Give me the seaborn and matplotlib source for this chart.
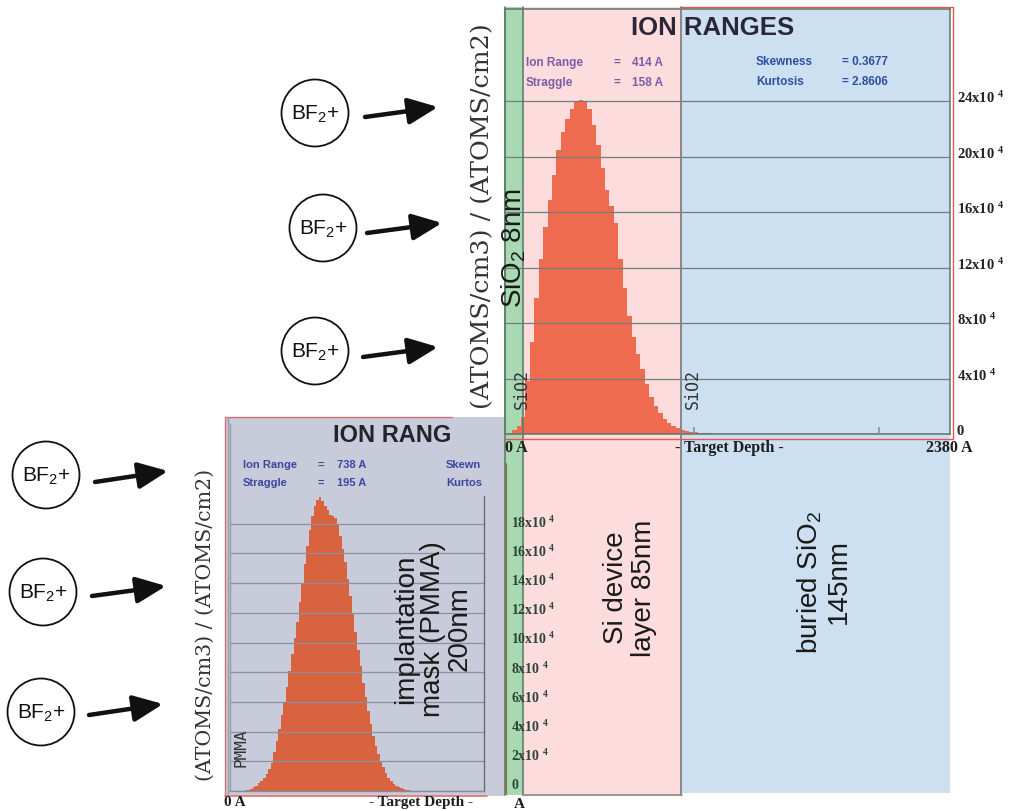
import numpy as np
import pandas as pd
import matplotlib
matplotlib.use("Agg")
import matplotlib.pyplot as plt
import matplotlib.patches as mpatches
import matplotlib.transforms as mtrans
import seaborn as sns

# ---------------- data ----------------
# top SRIM profile (Si device layer, SOI), 23.8 A bins starting at 0 A, values in 1e4
top_bin_width = 23.8
top_values = [0.1, 0.3, 0.6, 1.2, 3.8, 6.6, 9.8, 12.6, 14.9, 16.9,
              18.7, 20.5, 21.8, 22.7, 23.4, 23.9, 24.1, 24.0, 23.4, 22.3,
              20.8, 19.2, 17.6, 16.4, 15.2, 12.6, 10.5, 8.5, 7.0, 5.8,
              4.7, 3.6, 2.7, 2.0, 1.5, 1.1, 0.8, 0.6, 0.45, 0.32,
              0.24, 0.17, 0.12, 0.09, 0.06, 0.04]
top_yticks = [0, 4, 8, 12, 16, 20, 24]
top_depth_max = 2380
layer_edges = [0, 80, 930, 2380]           # A: SiO2 8nm / Si 85nm / buried SiO2 145nm
layer_colors = ["#a9d9b3", "#fddcdd", "#cde0f2"]
top_stats_left = [("Ion Range", "414 A"), ("Straggle", "158 A")]
top_stats_right = [("Skewness", "= 0.3677"), ("Kurtosis", "= 2.8606")]

# bottom SRIM profile (PMMA mask), 20 A bins starting at 100 A, values in 1e4
bot_bin_width = 20
bot_start = 100
bot_values = [0.02, 0.05, 0.1, 0.15, 0.25, 0.35, 0.55, 0.7, 0.9, 1.15,
              1.45, 1.9, 2.6, 3.4, 4.2, 5.1, 6.0, 7.0, 8.1, 9.2,
              10.3, 11.4, 12.7, 14.0, 15.3, 16.5, 17.6, 18.5, 19.2, 19.6,
              19.8, 19.5, 19.2, 18.9, 18.6, 18.5, 18.4, 18.0, 17.2, 16.3,
              15.4, 14.3, 13.1, 11.9, 10.7, 9.5, 8.4, 7.3, 6.3, 5.4,
              4.5, 3.7, 3.0, 2.5, 2.0, 1.6, 1.2, 0.9, 0.7, 0.5,
              0.35, 0.25, 0.18, 0.12, 0.08, 0.05, 0.03]
bot_yticks = [0, 2, 4, 6, 8, 10, 12, 14, 16, 18]
bot_depth_max = 2000
bot_stats = [("Ion Range", "738 A"), ("Straggle", "195 A")]

ylabel_text = "(ATOMS/cm3) / (ATOMS/cm2)"

# ---------------- figure ----------------
sns.set_theme(style="white")
plt.rcParams["font.family"] = ["Liberation Sans", "DejaVu Sans"]
plt.rcParams["mathtext.default"] = "regular"
SERIF = ["Liberation Serif", "DejaVu Serif"]

W, H = 1011, 812
fig = plt.figure(figsize=(W / 100, H / 100), dpi=100)
fig.patch.set_facecolor("white")
lift = mtrans.ScaledTranslation(0, 5 / 100, fig.dpi_scale_trans)   # labels sit ~5px above lines


def frac(x0, y0, x1, y1):
    return [x0 / W, 1 - y1 / H, (x1 - x0) / W, (y1 - y0) / H]


bg = fig.add_axes([0, 0, 1, 1], zorder=0)
bg.set_xlim(0, W)
bg.set_ylim(H, 0)
bg.axis("off")
# grey panel of the PMMA SRIM plot
bg.add_patch(mpatches.Rectangle((225, 418), 280, 379, color="#c8cbd9", lw=0))

# ---------- top axes ----------
ax1 = fig.add_axes(frac(505, 10, 950, 435), zorder=1)
ax1.patch.set_alpha(0)
px_per_unit1 = 55.5 / 4.0                 # pixels per 1e4
ymax1 = (435 - 10) / px_per_unit1 * 1e4
xmin1 = -15
below = -(796 - 435) / 425.0
above = 1 + 2 / 425.0
for i, col in enumerate(layer_colors):
    x0 = layer_edges[i] if i > 0 else xmin1
    x1 = layer_edges[i + 1]
    ymn = below if i < 2 else -(794 - 435) / 425.0
    ax1.axvspan(x0, x1, ymin=ymn, ymax=above, color=col, lw=0, zorder=0.3, clip_on=False)
ax1.axvline(xmin1, ymin=below, ymax=above, color="#5d8068", lw=1.2, clip_on=False, zorder=3)
ax1.axvline(layer_edges[1], ymin=below, ymax=above, color="#5d8068", lw=1.2, clip_on=False, zorder=3)
ax1.axvline(layer_edges[2], ymin=below, ymax=above, color="#808080", lw=1.3, clip_on=False, zorder=3)

edges_top = [i * top_bin_width for i in range(len(top_values) + 1)]
df_top = pd.DataFrame({"depth": [e + top_bin_width / 2 for e in edges_top[:-1]],
                       "conc": [v * 1e4 for v in top_values]})
sns.histplot(data=df_top, x="depth", weights="conc", bins=edges_top,
             element="step", fill=True, color="#ef6b4f", alpha=1, linewidth=0,
             ax=ax1)
ax1.set_xlim(xmin1, top_depth_max)
ax1.set_ylim(0, ymax1)
ax1.set_xlabel("")
ax1.set_ylabel("")
ax1.set_axisbelow(False)
ax1.yaxis.tick_right()
ax1.set_yticks([v * 1e4 for v in top_yticks])
ax1.set_yticklabels(["0"] + [f"{v}x10$^{{\\ 4}}$" for v in top_yticks[1:]])
ax1.grid(axis="y", color="#6f807c", lw=0.9)
ax1.grid(axis="x", visible=False)
ax1.set_xticks([1000, 2000])
ax1.set_xticklabels([])
ax1.tick_params(axis="x", direction="in", length=5, color="#8a9a96", bottom=True)
ax1.tick_params(axis="y", length=0, pad=5, labelsize=10.5, labelcolor="#222222")
for lbl in ax1.get_yticklabels():
    lbl.set_fontfamily(SERIF)
    lbl.set_fontweight("bold")
    lbl.set_transform(lbl.get_transform() + lift)
for s in ax1.spines.values():
    s.set_color("#5f7368")
    s.set_linewidth(1.1)

# ---------- bottom axes ----------
ax2 = fig.add_axes(frac(230, 425, 484, 792), zorder=3)
ax2.patch.set_alpha(0)
px_per_unit2 = 29.7 / 2.0
ymax2 = (792 - 425) / px_per_unit2 * 1e4
edges_bot = [bot_start + i * bot_bin_width for i in range(len(bot_values) + 1)]
df_bot = pd.DataFrame({"depth": [e + bot_bin_width / 2 for e in edges_bot[:-1]],
                       "conc": [v * 1e4 for v in bot_values]})
sns.histplot(data=df_bot, x="depth", weights="conc", bins=edges_bot,
             element="step", fill=True, color="#d9633f", alpha=1, linewidth=0,
             ax=ax2)
ax2.set_xlim(0, bot_depth_max)
ax2.set_ylim(0, ymax2)
ax2.set_xlabel("")
ax2.set_ylabel("")
ax2.set_axisbelow(False)
ax2.yaxis.tick_right()
ax2.set_yticks([v * 1e4 for v in bot_yticks])
ax2.set_yticklabels(["0"] + [f"{v}x10$^{{\\ 4}}$" for v in bot_yticks[1:]])
ax2.grid(axis="y", color="#8a90a2", lw=0.9)
ax2.grid(axis="x", visible=False)
ax2.set_xticks([])
ax2.tick_params(axis="y", length=0, pad=19.5, labelsize=10, labelcolor="#2b4434")
for k, lbl in enumerate(ax2.get_yticklabels()):
    lbl.set_fontfamily(SERIF)
    lbl.set_fontweight("bold")
    up = mtrans.ScaledTranslation(0, (8 - 0.5 * k) / 100, fig.dpi_scale_trans)
    lbl.set_transform(lbl.get_transform() + up)
ax2.spines["top"].set_visible(False)
ax2.spines["left"].set_color("#9a9aaa")
ax2.spines["bottom"].set_color("#8a8a98")
ax2.spines["right"].set_color("#6a6a70")
ax2.spines["right"].set_bounds(0, (792 - 497) / px_per_unit2 * 1e4)
for s in ax2.spines.values():
    s.set_linewidth(1.0)

# ---------- overlay: annotations ----------
ov = fig.add_axes([0, 0, 1, 1], zorder=10)
ov.set_xlim(0, W)
ov.set_ylim(H, 0)
ov.axis("off")
ov.patch.set_alpha(0)

# red frames
red = "#e65454"
ov.plot([680, 953, 953, 505], [8, 8, 440, 440], color=red, lw=1)
ov.plot([452, 225, 225], [418, 418, 797], color="#d07070", lw=1)
ov.plot([225, 487], [797, 797], color="#e07070", lw=1.2)
ov.plot([228, 228], [419, 796], color="#9a9aaa", lw=1)
ov.plot([506, 506], [465, 795], color="#7d7a52", lw=1.6)
ov.plot([523, 682], [796, 796], color="#909090", lw=1.3)

# titles and stats
ov.text(713, 28, "ION RANGES", ha="center", va="center", fontsize=18.5,
        fontweight="bold", color="#2a2838")
for j, (name, val) in enumerate(top_stats_left):
    y = 63 + 20 * j
    ov.text(526, y, name, ha="left", va="center", fontsize=8.5, fontweight="bold", color="#7c5ca6")
    ov.text(613, y, "=", ha="left", va="center", fontsize=8.5, fontweight="bold", color="#7c5ca6")
    ov.text(632, y, val, ha="left", va="center", fontsize=8.5, fontweight="bold", color="#7c5ca6")
for j, (name, val) in enumerate(top_stats_right):
    y = 62 + 20 * j
    ov.text(756, y, name, ha="left", va="center", fontsize=8.5, fontweight="bold", color="#2d4f9f")
    ov.text(842, y, val, ha="left", va="center", fontsize=8.5, fontweight="bold", color="#2d4f9f")

ov.text(333, 436, "ION RANG", ha="left", va="center", fontsize=17,
        fontweight="bold", color="#23232c")
for j, (name, val) in enumerate(bot_stats):
    y = 465 + 18 * j
    ov.text(243, y, name, ha="left", va="center", fontsize=8, fontweight="bold", color="#3c46a0")
    ov.text(318, y, "=", ha="left", va="center", fontsize=8, fontweight="bold", color="#3c46a0")
    ov.text(337, y, val, ha="left", va="center", fontsize=8, fontweight="bold", color="#3c46a0")
ov.text(446, 465, "Skewn", ha="left", va="center", fontsize=8, fontweight="bold", color="#3c46a0")
ov.text(446, 483, "Kurtos", ha="left", va="center", fontsize=8, fontweight="bold", color="#3c46a0")

# axis labels (depth)
axis_lbl = dict(fontfamily=SERIF, fontweight="bold", color="#1e1e1e", va="center")
ov.text(505, 448, "0 A", ha="left", fontsize=11.5, **axis_lbl)
ov.text(729, 448, "- Target Depth -", ha="center", fontsize=11.5, **axis_lbl)
ov.text(973, 448, "2380 A", ha="right", fontsize=11.5, **axis_lbl)
ov.text(224, 803, "0 A", ha="left", fontsize=11, **axis_lbl)
ov.text(421, 803, "- Target Depth -", ha="center", fontsize=11, **axis_lbl)
ov.text(514, 805, "A", ha="left", fontsize=11, **axis_lbl)

# y labels
ov.text(483, 216, ylabel_text, rotation=90, ha="center", va="center",
        fontsize=18.3, fontfamily=["DejaVu Serif"], color="#333333")
ov.text(205, 625, ylabel_text, rotation=90, ha="center", va="center",
        fontsize=14.8, fontfamily=["DejaVu Serif"], color="#333333")

# layer labels
ov.text(514, 248, "SiO$_2$ 8nm", rotation=90, ha="center", va="center",
        fontsize=20, color="#1a1a1a")
ov.text(522, 389, "SiO2", rotation=90, ha="center", va="center",
        fontsize=12, fontfamily=["DejaVu Sans Mono"], color="#333333")
ov.text(693, 389, "SiO2", rotation=90, ha="center", va="center",
        fontsize=12, fontfamily=["DejaVu Sans Mono"], color="#333333")
ov.text(241, 748, "PMMA", rotation=90, ha="center", va="center",
        fontsize=11.5, fontfamily=["DejaVu Sans Mono"], color="#333333")
ov.text(433, 629, "implantation\nmask (PMMA)\n200nm", rotation=90, ha="center",
        va="center", fontsize=20, linespacing=1.05, color="#1a1a1a")
ov.text(630, 588, "Si device\nlayer 85nm", rotation=90, ha="center",
        va="center", fontsize=20, linespacing=1.1, color="#1a1a1a")
ov.text(824, 582, "buried SiO$_2$\n145nm", rotation=90, ha="center",
        va="center", fontsize=20, linespacing=1.1, color="#1a1a1a")

# BF2+ ions with arrows
ions = [((315, 114), (365, 118), (438, 108)),
        ((323, 229), (367, 234), (442, 224)),
        ((315, 352), (363, 358), (438, 348)),
        ((46, 476), (95, 483), (168, 472)),
        ((43, 593), (92, 597), (166, 587)),
        ((41, 713), (89, 716), (163, 705))]
for (cx, cy), tail, tip in ions:
    ov.add_patch(mpatches.Circle((cx, cy), 33.5, fill=False, ec="#111111", lw=1.3))
    ov.text(cx, cy, "BF$_2$+", ha="center", va="center", fontsize=15, color="#111111")
    ov.annotate("", xy=tip, xytext=tail,
                arrowprops=dict(arrowstyle="-|>,head_length=1.8,head_width=0.8",
                                mutation_scale=10, lw=3.2, color="#111111",
                                shrinkA=0, shrinkB=0))

fig.savefig("out.png", dpi=100, facecolor="white")
